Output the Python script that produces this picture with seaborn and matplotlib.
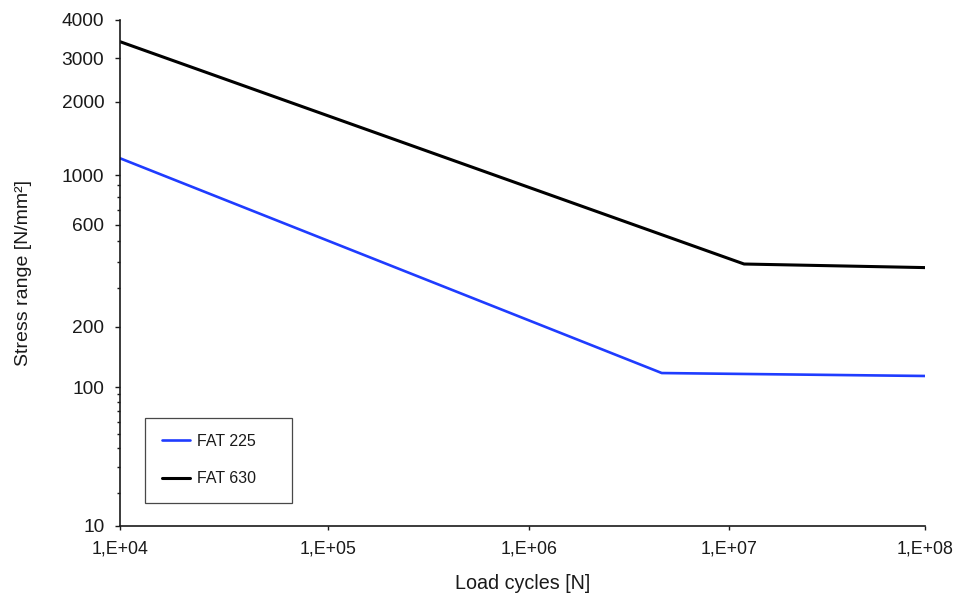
import matplotlib
matplotlib.use("Agg")
import matplotlib.pyplot as plt
import numpy as np
import pandas as pd
import seaborn as sns

# S-N curves
fat225_cycles = [1e4, 4.6e6, 1e8]
fat225_stress = [1174, 117.4, 113.5]
fat630_cycles = [1e4, 1.19e7, 1e8]
fat630_stress = [3395, 390, 375]

x_major = [1e4, 1e5, 1e6, 1e7, 1e8]
x_labels = ["1,E+04", "1,E+05", "1,E+06", "1,E+07", "1,E+08"]
y_major = [10, 100, 200, 600, 1000, 2000, 3000, 4000]
y_labels = ["10", "100", "200", "600", "1000", "2000", "3000", "4000"]
y_minor = [20, 30, 40, 50, 60, 70, 80, 90, 300, 400, 500, 700, 800, 900]

# the original axes are not a clean log scale: calibrate value -> fraction of axis
y_cal_vals = [10, 20, 50, 100, 200, 300, 600, 1000, 2000, 3000, 4000]
y_cal_frac = [0.0, 0.0646, 0.1818, 0.2747, 0.3939, 0.4704, 0.5955, 0.6931, 0.8385, 0.9249, 1.0]
x_cal_vals = [1e4, 1e5, 1e6, 1e7, 1e8]
x_cal_frac = [0.0, 0.2586, 0.5081, 0.7569, 1.0]


def piecewise(t, xp, fp):
    t = np.asarray(t, dtype=float)
    xp = np.asarray(xp, dtype=float)
    fp = np.asarray(fp, dtype=float)
    out = np.interp(t, xp, fp)
    k0 = (fp[1] - fp[0]) / (xp[1] - xp[0])
    k1 = (fp[-1] - fp[-2]) / (xp[-1] - xp[-2])
    out = np.where(t < xp[0], fp[0] + (t - xp[0]) * k0, out)
    out = np.where(t > xp[-1], fp[-1] + (t - xp[-1]) * k1, out)
    return out


def make_scale(vals, frac):
    lv = np.log10(vals)

    def fwd(v):
        with np.errstate(divide="ignore", invalid="ignore"):
            return piecewise(np.log10(np.maximum(v, 1e-300)), lv, frac)

    def inv(f):
        return 10 ** piecewise(f, frac, lv)

    return fwd, inv


sns.set_style("ticks")
plt.rcParams["font.family"] = ["Liberation Sans", "DejaVu Sans"]

df225 = pd.DataFrame({"cycles": fat225_cycles, "stress": fat225_stress})
df630 = pd.DataFrame({"cycles": fat630_cycles, "stress": fat630_stress})

fig = plt.figure(figsize=(9.54, 5.99), dpi=100)
ax = fig.add_axes([120 / 954, 1 - 526 / 599, 805 / 954, 506 / 599])

ax.set_xscale("function", functions=make_scale(x_cal_vals, x_cal_frac))
ax.set_yscale("function", functions=make_scale(y_cal_vals, y_cal_frac))

sns.lineplot(data=df225, x="cycles", y="stress", sort=False, estimator=None,
             color="#1f3cff", lw=1.9, label="FAT 225", ax=ax)
sns.lineplot(data=df630, x="cycles", y="stress", sort=False, estimator=None,
             color="black", lw=2.2, label="FAT 630", ax=ax)

ax.set_xlim(1e4, 1e8)
ax.set_ylim(10, 4000)
ax.set_xticks(x_major, labels=x_labels)
ax.set_xticks([], minor=True)
ax.set_yticks(y_major, labels=y_labels)
ax.set_yticks(y_minor, minor=True)

ax.tick_params(axis="x", which="major", length=3, width=1, pad=7.5, labelsize=12.8,
               colors="#1a1a1a")
ax.tick_params(axis="y", which="major", length=3.3, width=1, pad=8, labelsize=13.8,
               colors="#1a1a1a")
ax.tick_params(axis="y", which="minor", length=2.2, width=1, color="#1a1a1a")

sns.despine(ax=ax)
for s in ["left", "bottom"]:
    ax.spines[s].set_color("#1a1a1a")
    ax.spines[s].set_linewidth(1.2)

ax.set_xlabel("Load cycles [N]", fontsize=14.2, color="#1a1a1a", labelpad=12)
ax.set_ylabel("Stress range [N/mm²]", fontsize=14, color="#1a1a1a", labelpad=21.5)

leg = ax.legend(loc="lower left", bbox_to_anchor=(0.0314, 0.046, 0.182, 0.165),
                mode="expand", borderaxespad=0, frameon=True, fancybox=False,
                edgecolor="#1a1a1a", fontsize=11.5, labelspacing=1.4, borderpad=1.02,
                handlelength=1.8, handletextpad=0.4)
leg.get_frame().set_linewidth(0.9)
for t in leg.get_texts():
    t.set_color("#1a1a1a")

fig.savefig("out.png", dpi=100, facecolor="white")
